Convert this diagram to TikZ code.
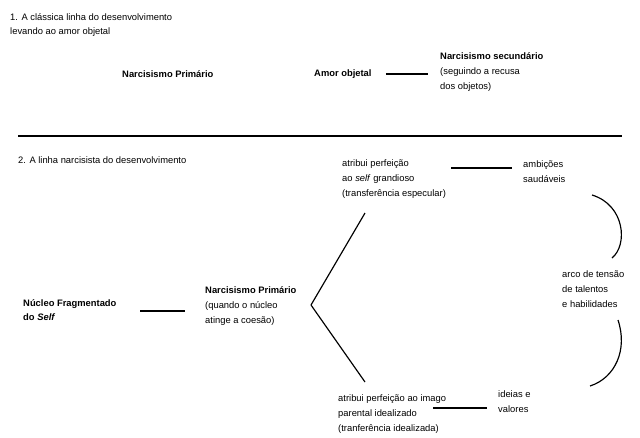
\documentclass[tikz,border=0pt]{standalone}
\usepackage{fontspec}
\setmainfont{Liberation Sans}
\usetikzlibrary{positioning,calc}

\begin{document}
\begin{tikzpicture}[x=0.03cm, y=-0.03cm,
    txt/.style={anchor=west, align=left, inner sep=0pt, font=\fontsize{8}{12.6}\selectfont},
    bold/.style={txt, font=\fontsize{8}{12.6}\selectfont\bfseries},
    link/.style={line width=1pt}]
    \useasboundingbox (0,0) rectangle (640,437);
    % part 1
    \node (t1) [txt] at (10,25) {1. A clássica linha do desenvolvimento\\levando ao amor objetal};
    \node (np1) [bold] at (122,74) {Narcisismo Primário};
    \node (amor) [bold] at (314,74) {Amor objetal};
    \node (sec) [txt] at (440,72) {\textbf{Narcisismo secundário}\\(seguindo a recusa\\dos objetos)};
    \draw [link, shorten <=12pt, shorten >=10pt] (amor.east) -- (amor.east -| sec.west);
    \coordinate (sepl) at (18,136);
    \coordinate (sepr) at (622,136);
    \draw [line width=1.6pt] (sepl) -- (sepr);
    % part 2
    \node (t2) [txt] at (18,160) {2. A linha narcisista do desenvolvimento};
    \node (nucleo) [txt] at (23,310) {\textbf{Núcleo Fragmentado}\\\textbf{do \textit{Self}}};
    \node (np2) [txt] at (205,306) {\textbf{Narcisismo Primário}\\(quando o núcleo\\atinge a coesão)};
    \node (grand) [txt] at (342,179) {atribui perfeição\\ao \textit{self} grandioso\\(transferência especular)};
    \node (amb) [txt] at (523,172) {ambições\\saudáveis};
    \node (arco) [txt] at (562,289) {arco de tensão\\de talentos\\e habilidades};
    \node (ideal) [txt] at (338,414) {atribui perfeição ao imago\\parental idealizado\\(tranferência idealizada)};
    \node (ideias) [txt] at (498,402) {ideias e\\valores};
    \coordinate (fork) at (311,305);
    \draw [link] ($(nucleo.east -| 140,0)+(0,1)$) -- ($(nucleo.east -| np2.west)+(-20,1)$);
    \draw [link] (fork) -- (365,213);
    \draw [link] (fork) -- (365,382);
    \draw [link] ($(grand.west)+(109,-11)$) -- ++(61,0);
    \draw [link] ($(ideal.west)+(95,-6)$) -- ++(54,0);
    \draw [link] (592,195) .. controls (625,205) and (628,245) .. (612,258);
    \draw [link] (618,320) .. controls (628,350) and (615,378) .. (590,386);
\end{tikzpicture}
\end{document}
